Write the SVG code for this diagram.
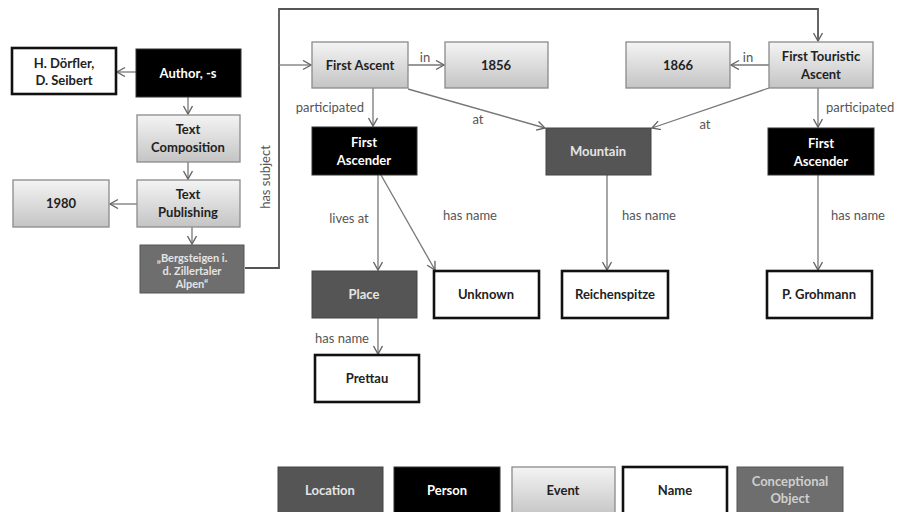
<svg xmlns="http://www.w3.org/2000/svg" width="900" height="512" viewBox="0 0 900 512">
<defs>
<linearGradient id="ev" x1="0" y1="0" x2="0" y2="1">
<stop offset="0" stop-color="#f4f4f4"/>
<stop offset="1" stop-color="#c4c4c4"/>
</linearGradient>
<marker id="ar" markerUnits="userSpaceOnUse" markerWidth="12" markerHeight="12" refX="9" refY="5" orient="auto">
<path d="M1,0.5 L9,5 L1,9.5" fill="none" stroke="#666" stroke-width="1.4"/>
</marker>
</defs>
<style>
.t{font-family:Lato,"Liberation Sans",sans-serif;font-weight:bold;font-size:13px;text-anchor:middle}
.w{fill:#fff}
.k{fill:#222}
.lg{fill:#e4e4e4}
.ev{fill:url(#ev);stroke:#8a8a8a;stroke-width:1.3}
.nm{fill:#fff;stroke:#111;stroke-width:2.6}
.ps{fill:#000;stroke:#333;stroke-width:1}
.lc{fill:#555;stroke:#444;stroke-width:1}
.co{fill:#6e6e6e;stroke:#555;stroke-width:1}
.e{fill:none;stroke:#777;stroke-width:1.3}
.el{font-family:Lato,"Liberation Sans",sans-serif;font-size:13px;fill:#555}
</style>
<rect width="900" height="512" fill="#fff"/>
<g id="connectors">
<line class="e" x1="136" y1="72" x2="117" y2="72" marker-end="url(#ar)"/>
<line class="e" x1="188" y1="97" x2="188" y2="114" marker-end="url(#ar)"/>
<line class="e" x1="188" y1="162" x2="188" y2="179" marker-end="url(#ar)"/>
<line class="e" x1="137" y1="204" x2="110" y2="204" marker-end="url(#ar)"/>
<line class="e" x1="192" y1="227" x2="192" y2="244" marker-end="url(#ar)"/>
<polyline fill="none" stroke="#555" stroke-width="1.8" points="245,268 279,268 279,9 818,9 818,41" marker-end="url(#ar)"/>
<line class="e" stroke="#555" x1="279" y1="65" x2="311" y2="65" marker-end="url(#ar)"/>
<line class="e" x1="408" y1="65" x2="444" y2="65" marker-end="url(#ar)"/>
<line class="e" x1="373" y1="88" x2="373" y2="126" marker-end="url(#ar)"/>
<line class="e" x1="408" y1="89" x2="545" y2="128" marker-end="url(#ar)"/>
<line class="e" x1="769" y1="65" x2="731" y2="65" marker-end="url(#ar)"/>
<line class="e" x1="769" y1="88" x2="652" y2="128" marker-end="url(#ar)"/>
<line class="e" x1="818" y1="88" x2="818" y2="127" marker-end="url(#ar)"/>
<line class="e" x1="378" y1="175" x2="378" y2="270" marker-end="url(#ar)"/>
<line class="e" x1="381" y1="175" x2="435" y2="270" marker-end="url(#ar)"/>
<line class="e" x1="607" y1="175" x2="607" y2="270" marker-end="url(#ar)"/>
<line class="e" x1="818" y1="175" x2="818" y2="270" marker-end="url(#ar)"/>
<line class="e" x1="378" y1="318" x2="378" y2="354" marker-end="url(#ar)"/>
<text class="el" transform="translate(270,177) rotate(-90)" text-anchor="middle">has subject</text>
<text class="el" x="425" y="62" text-anchor="middle">in</text>
<text class="el" x="364" y="112" text-anchor="end">participated</text>
<text class="el" x="478" y="124" text-anchor="middle">at</text>
<text class="el" x="748" y="62" text-anchor="middle">in</text>
<text class="el" x="705" y="129" text-anchor="middle">at</text>
<text class="el" x="826" y="112">participated</text>
<text class="el" x="349" y="223" text-anchor="middle">lives at</text>
<text class="el" x="470" y="220" text-anchor="middle">has name</text>
<text class="el" x="649" y="220" text-anchor="middle">has name</text>
<text class="el" x="858" y="220" text-anchor="middle">has name</text>
<text class="el" x="342" y="343" text-anchor="middle">has name</text>
</g>
<g id="doerfler"><rect class="nm" x="12" y="48" width="104" height="46"/><text class="t k" x="64" y="68">H. Dörfler,</text><text class="t k" x="64" y="85">D. Seibert</text></g>
<g id="author"><rect class="ps" x="136" y="49" width="105" height="48"/><text class="t w" x="188" y="78">Author, -s</text></g>
<g id="textcomp"><rect class="ev" x="137" y="115" width="103" height="47"/><text class="t k" x="188" y="134">Text</text><text class="t k" x="188" y="152">Composition</text></g>
<g id="y1980"><rect class="ev" x="13" y="180" width="96" height="47"/><text class="t k" x="61" y="208">1980</text></g>
<g id="textpub"><rect class="ev" x="137" y="180" width="103" height="47"/><text class="t k" x="188" y="199">Text</text><text class="t k" x="188" y="217">Publishing</text></g>
<g id="bergsteigen"><rect class="co" x="140" y="245" width="104" height="48"/><text class="t lg" style="font-size:11px" x="192" y="262">„Bergsteigen i.</text><text class="t lg" style="font-size:11px" x="192" y="275">d. Zillertaler</text><text class="t lg" style="font-size:11px" x="192" y="288">Alpen“</text></g>
<g id="firstascent"><rect class="ev" x="312" y="42" width="96" height="46"/><text class="t k" x="360" y="70">First Ascent</text></g>
<g id="y1856"><rect class="ev" x="445" y="42" width="103" height="46"/><text class="t k" x="496" y="70">1856</text></g>
<g id="y1866"><rect class="ev" x="626" y="42" width="104" height="46"/><text class="t k" x="678" y="70">1866</text></g>
<g id="firsttouristic"><rect class="ev" x="769" y="42" width="104" height="46"/><text class="t k" x="821" y="61">First Touristic</text><text class="t k" x="821" y="79">Ascent</text></g>
<g id="ascenderL"><rect class="ps" x="312" y="127" width="105" height="48"/><text class="t w" x="364" y="147">First</text><text class="t w" x="364" y="165">Ascender</text></g>
<g id="mountain"><rect class="lc" x="546" y="128" width="105" height="47"/><text class="t lg" x="598" y="156">Mountain</text></g>
<g id="ascenderR"><rect class="ps" x="768" y="128" width="106" height="47"/><text class="t w" x="821" y="148">First</text><text class="t w" x="821" y="166">Ascender</text></g>
<g id="place"><rect class="lc" x="312" y="271" width="105" height="47"/><text class="t lg" x="364" y="299">Place</text></g>
<g id="unknown"><rect class="nm" x="434" y="271" width="105" height="47"/><text class="t k" x="486" y="299">Unknown</text></g>
<g id="reichenspitze"><rect class="nm" x="562" y="271" width="106" height="47"/><text class="t k" x="615" y="299">Reichenspitze</text></g>
<g id="grohmann"><rect class="nm" x="767" y="271" width="105" height="47"/><text class="t k" x="819" y="299">P. Grohmann</text></g>
<g id="prettau"><rect class="nm" x="315" y="355" width="104" height="47"/><text class="t k" x="367" y="383">Prettau</text></g>
<g id="legend">
<rect class="lc" x="278" y="467" width="105" height="50"/><text class="t lg" x="330" y="495">Location</text>
<rect class="ps" x="394" y="467" width="106" height="50"/><text class="t w" x="447" y="495">Person</text>
<rect class="ev" x="512" y="467" width="103" height="50"/><text class="t k" x="563" y="495">Event</text>
<rect class="nm" x="623" y="467" width="104" height="50"/><text class="t k" x="675" y="495">Name</text>
<rect class="co" x="737" y="467" width="106" height="50"/><text class="t" style="fill:#cfcfcf" x="790" y="486">Conceptional</text><text class="t" style="fill:#cfcfcf" x="790" y="503">Object</text>
</g>
</svg>
